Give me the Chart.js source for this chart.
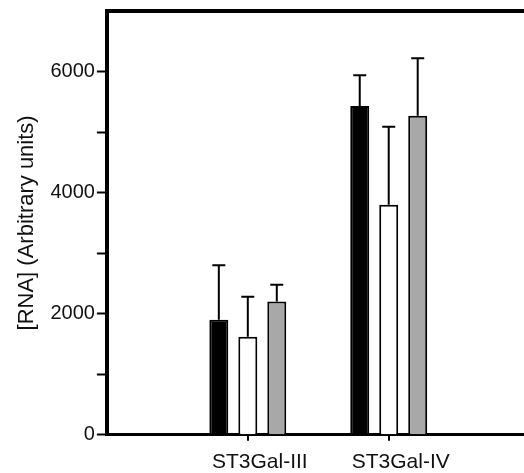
<!DOCTYPE html>
<html>
<head>
<meta charset="utf-8">
<script src="https://cdn.jsdelivr.net/npm/chart.js@4/dist/chart.umd.min.js"></script>
<style>
  html, body { margin: 0; padding: 0; background: #fff; }
  #wrap { width: 524px; height: 473px; }
</style>
</head>
<body>
<div id="wrap"><canvas id="c" width="524" height="473"></canvas></div>
<script>
const categories = ['ST3Gal-III', 'ST3Gal-IV'];
const series1 = [1900, 5430];
const series1Err = [900, 510];
const series2 = [1620, 3800];
const series2Err = [660, 1290];
const series3 = [2200, 5270];
const series3Err = [280, 950];
const yTicksLabeled = [0, 2000, 4000, 6000];
const yTitle = '[RNA] (Arbitrary units)';

const toPoints = vals => vals.map((v, i) => ({ x: i + 1, y: v }));

const errorBars = {
  id: 'errorBars',
  afterDatasetsDraw(chart) {
    const ctx = chart.ctx;
    const yScale = chart.scales.y;
    chart.data.datasets.forEach((ds, di) => {
      const meta = chart.getDatasetMeta(di);
      meta.data.forEach((bar, j) => {
        const v = ds.data[j].y;
        const e = ds.errors[j];
        const yTop = yScale.getPixelForValue(v + e);
        ctx.save();
        ctx.strokeStyle = '#000';
        ctx.lineWidth = 2;
        ctx.beginPath();
        ctx.moveTo(bar.x, bar.y);
        ctx.lineTo(bar.x, yTop);
        ctx.moveTo(bar.x - 6.5, yTop);
        ctx.lineTo(bar.x + 6.5, yTop);
        ctx.stroke();
        ctx.restore();
      });
    });
  }
};

// category tick marks placed through the x scale
const categoryTicks = {
  id: 'categoryTicks',
  afterDraw(chart) {
    const ctx = chart.ctx;
    const xs = chart.scales.x;
    const y0 = chart.chartArea.bottom;
    ctx.save();
    ctx.strokeStyle = '#000';
    ctx.lineWidth = 2;
    ctx.beginPath();
    categories.forEach((c, i) => {
      const px = Math.round(xs.getPixelForValue(i + 1));
      ctx.moveTo(px, y0);
      ctx.lineTo(px, y0 + 6);
    });
    ctx.stroke();
    ctx.restore();
  }
};

new Chart(document.getElementById('c'), {
  type: 'bar',
  data: {
    datasets: [
      { label: 'A', data: toPoints(series1), errors: series1Err, backgroundColor: '#000', borderColor: '#000', borderWidth: 2 },
      { label: 'B', data: toPoints(series2), errors: series2Err, backgroundColor: '#fff', borderColor: '#000', borderWidth: 2 },
      { label: 'C', data: toPoints(series3), errors: series3Err, backgroundColor: '#a8a8a8', borderColor: '#000', borderWidth: 2 }
    ]
  },
  options: {
    responsive: false,
    animation: false,
    devicePixelRatio: 1,
    categoryPercentage: 0.617,
    barPercentage: 0.655,
    layout: { padding: { left: 14, top: 11, right: 0, bottom: -11 } },
    plugins: { legend: { display: false }, tooltip: { enabled: false } },
    scales: {
      x: {
        type: 'linear',
        min: 0,
        max: 2.96,
        offset: false,
        grid: {
          offset: false,
          drawOnChartArea: false,
          tickLength: 6,
          tickWidth: 2,
          tickColor: 'rgba(0,0,0,0)'
        },
        border: { width: 3, color: '#000' },
        ticks: {
          stepSize: 1,
          includeBounds: false,
          maxRotation: 0,
          autoSkip: false,
          padding: 9,
          labelOffset: 12,
          color: '#111',
          font: { family: '"Liberation Sans", Arial, sans-serif', size: 21 },
          callback: v => categories[v - 1] || ''
        }
      },
      xTop: {
        type: 'linear',
        position: 'top',
        min: 0,
        max: 1,
        grid: { drawOnChartArea: false, drawTicks: false },
        ticks: { display: false },
        border: { width: 4, color: '#000' }
      },
      y: {
        min: 0,
        max: 7000,
        grid: {
          drawOnChartArea: false,
          tickLength: 10,
          tickWidth: 2,
          tickColor: c => (c.tick && c.tick.value === 7000) ? 'rgba(0,0,0,0)' : '#000'
        },
        border: { width: 4, color: '#000' },
        ticks: {
          stepSize: 1000,
          padding: 2,
          color: '#111',
          font: { family: '"Liberation Sans", Arial, sans-serif', size: 20, lineHeight: 0.4 },
          callback: v => v === 7000 ? null : (yTicksLabeled.includes(v) ? String(v) : '')
        },
        title: {
          display: true,
          text: yTitle,
          color: '#111',
          padding: { top: 0, bottom: 8 },
          font: { family: '"Liberation Sans", Arial, sans-serif', size: 22 }
        }
      }
    }
  },
  plugins: [errorBars, categoryTicks]
});
</script>
</body>
</html>
